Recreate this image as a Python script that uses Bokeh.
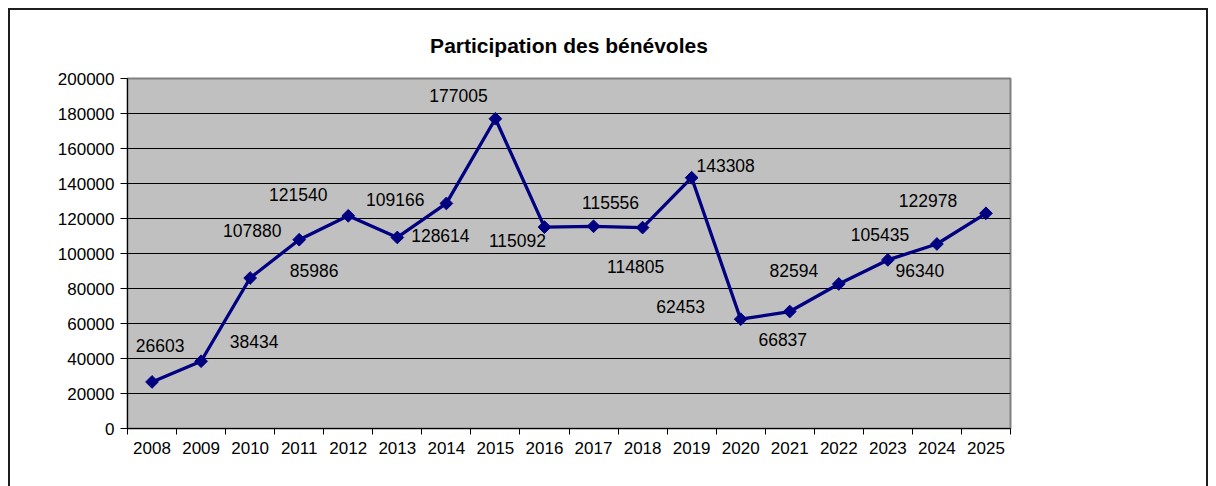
import math
from bokeh.plotting import figure
from bokeh.models import Range1d, FixedTicker, PrintfTickFormatter, ColumnDataSource, Spacer
from bokeh.layouts import column, row
from bokeh.core.properties import value
from bokeh.embed import file_html
from bokeh.resources import INLINE

# ---- data ----
years = ["2008", "2009", "2010", "2011", "2012", "2013", "2014", "2015", "2016",
         "2017", "2018", "2019", "2020", "2021", "2022", "2023", "2024", "2025"]
volunteers = [26603, 38434, 85986, 107880, 121540, 109166, 128614, 177005, 115092,
              115556, 114805, 143308, 62453, 66837, 82594, 96340, 105435, 122978]
y_ticks = [0, 20000, 40000, 60000, 80000, 100000, 120000, 140000, 160000, 180000, 200000]
title_text = "Participation des bénévoles"

# ---- label placement (screen pixel offsets, style only) ----
label_dx = [8, 53, 64, -47, -50, -2, -6, -37, -27, 17, -7, 34, -60, -7, -45, 32, -57, -58]
label_dy = [-36, -20, -8, -9, -21, -38, 32, -23, 13, -24, 39, -12, -13, 28, -13, 11, -9, -13]

FONT = "Liberation Sans"
n = len(years)
xs = [i + 0.5 for i in range(n)]

src = ColumnDataSource(dict(x=xs, y=volunteers, lab=[str(v) for v in volunteers],
                            dx=label_dx, dy=label_dy))

p = figure(width=1200, height=478, output_backend="svg", toolbar_location=None,
           x_range=Range1d(0, n), y_range=Range1d(0, 200000),
           min_border_left=119, min_border_right=198, min_border_top=70, min_border_bottom=58,
           title=title_text)

p.border_fill_color = None
p.background_fill_color = "#C0C0C0"
p.outline_line_color = "#808080"
p.outline_line_width = 2
p.styles = {"box-shadow": "inset 2px 0 0 #1e1e1e, inset -2px 0 0 #1e1e1e, inset 0 2px 0 #1e1e1e"}

p.title.align = "center"
p.title.text_font = FONT
p.title.text_font_size = "21px"
p.title.text_font_style = "bold"
p.title.text_color = "#000000"
p.title.standoff = 44

# y axis
p.yaxis.ticker = FixedTicker(ticks=y_ticks)
p.yaxis.formatter = PrintfTickFormatter(format="%d")
p.yaxis.major_label_text_font = FONT
p.yaxis.major_label_text_font_size = "17px"
p.yaxis.major_label_text_color = "#000000"
p.yaxis.major_tick_in = 0
p.yaxis.major_tick_out = 7
p.yaxis.minor_tick_line_color = None
p.yaxis.axis_line_color = "#000000"
p.yaxis.major_tick_line_color = "#000000"
p.yaxis.major_label_standoff = 6

# x axis
p.xaxis.ticker = FixedTicker(ticks=xs, minor_ticks=list(range(n + 1)))
p.xaxis.major_label_overrides = {x: y for x, y in zip(xs, years)}
p.xaxis.major_label_text_font = FONT
p.xaxis.major_label_text_font_size = "17px"
p.xaxis.major_label_text_color = "#000000"
p.xaxis.major_tick_line_color = None
p.xaxis.major_tick_out = 5
p.xaxis.major_tick_in = 0
p.xaxis.minor_tick_line_color = "#000000"
p.xaxis.minor_tick_out = 6
p.xaxis.minor_tick_in = 0
p.xaxis.axis_line_color = "#000000"
p.xaxis.major_label_standoff = 7

p.xgrid.grid_line_color = None
p.ygrid.grid_line_color = "#000000"
p.ygrid.grid_line_width = 1
p.ygrid.ticker = FixedTicker(ticks=y_ticks)

p.line("x", "y", source=src, line_color="#000080", line_width=3.3)
p.scatter("x", "y", source=src, marker="square", angle=math.pi / 4, size=9,
          fill_color="#000080", line_color="#000080", line_width=1)
p.text("x", "y", text="lab", source=src, x_offset="dx", y_offset="dy",
       text_align="center", text_baseline="middle", text_font=value(FONT),
       text_font_size="17.5px", text_color="#000000")

layout = column(Spacer(height=8), row(Spacer(width=8), p))
open("out.html", "w").write(file_html(layout, INLINE))
